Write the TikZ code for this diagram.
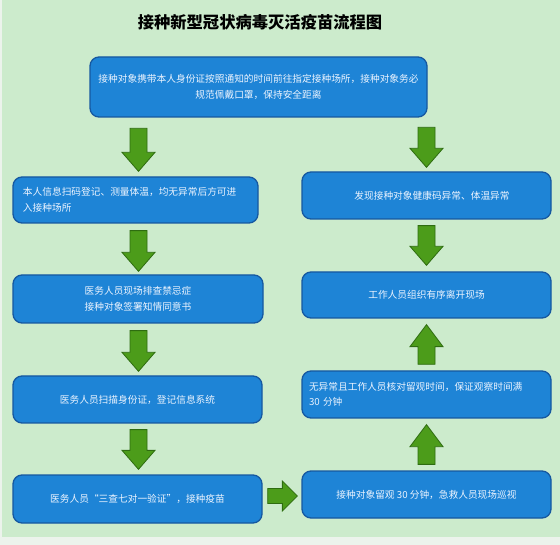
\documentclass[tikz,border=0pt]{standalone}
\usepackage{fontspec}
\setmainfont{Noto Sans CJK SC}
\usetikzlibrary{calc}
\definecolor{bggreen}{RGB}{204,235,204}
\definecolor{bgedge}{RGB}{236,243,236}
\definecolor{boxblue}{RGB}{30,132,214}
\definecolor{boxborder}{RGB}{22,88,160}
\definecolor{arrowgreen}{RGB}{76,156,26}
\definecolor{arrowborder}{RGB}{46,108,16}
\definecolor{boxtext}{RGB}{236,244,255}
\tikzset{
  flowbox/.style={draw=boxborder, fill=boxblue, line width=1.3pt, rounded corners=9pt,
    text=boxtext, font=\fontsize{9.7}{15.5}\selectfont, inner sep=0pt},
  arrowstyle/.style={draw=arrowborder, fill=arrowgreen, line width=0.8pt, line join=miter},
  titlestyle/.style={font=\fontsize{16.3}{18}\selectfont\bfseries, text=black}
}
% #1 start, #2 end, #3 shaft half width, #4 head half width, #5 head length
\newcommand\blockarr[5]{%
  \draw[arrowstyle] let \p1=#1, \p2=#2,
    \n1={atan2(\y2-\y1,\x2-\x1)}, \n2={veclen(\x2-\x1,\y2-\y1)} in
    [shift={(\p1)}, rotate=\n1]
    (0,-#3) -- (\n2-#5,-#3) -- (\n2-#5,-#4) -- (\n2,0) -- (\n2-#5,#4) -- (\n2-#5,#3) -- (0,#3) -- cycle;}
\begin{document}
\begin{tikzpicture}[x=1pt,y=1pt]
\useasboundingbox (0,0) rectangle (560,-545);
\fill[bgedge] (0,0) rectangle (560,-545);
\fill[bggreen] (2,0) rectangle (560,-537);

\node[titlestyle] (title) at (260,-22) {接种新型冠状病毒灭活疫苗流程图};

\node[flowbox, minimum width=337pt, minimum height=60pt, align=center] (top) at (258.5,-87)
  {接种对象携带本人身份证按照通知的时间前往指定接种场所，接种对象务必\\规范佩戴口罩，保持安全距离};

\node[flowbox, minimum width=245pt, minimum height=46pt, text width=225pt, align=left, inner xsep=10pt] (L1) at (135.5,-200)
  {本人信息扫码登记、测量体温，均无异常后方可进\\入接种场所};
\node[flowbox, minimum width=250pt, minimum height=48pt, align=center] (L2) at (138,-299)
  {医务人员现场排查禁忌症\\接种对象签署知情同意书};
\node[flowbox, minimum width=249pt, minimum height=47pt, align=center] (L3) at (137.5,-399.5)
  {医务人员扫描身份证，登记信息系统};
\node[flowbox, minimum width=249pt, minimum height=48pt, align=center] (L4) at (137.5,-499)
  {医务人员“三查七对一验证”，接种疫苗};

\node[flowbox, minimum width=249pt, minimum height=47pt, align=center] (R1) at (426.5,-195.5)
  {\hspace*{11pt}发现接种对象健康码异常、体温异常};
\node[flowbox, minimum width=249pt, minimum height=46pt, align=center] (R2) at (426.5,-295)
  {工作人员组织有序离开现场};
\node[flowbox, minimum width=249pt, minimum height=47pt, text width=235pt, align=left, inner xsep=7pt] (R3) at (426.5,-394.5)
  {无异常且工作人员核对留观时间，保证观察时间满\\30 分钟};
\node[flowbox, minimum width=249pt, minimum height=47pt, align=center] (R4) at (426.5,-494.5)
  {接种对象留观 30 分钟，急救人员现场巡视};

% left column
\blockarr{($(L1.north)+(3,48)$)}{($(L1.north)+(3,5)$)}{8.5}{16.5}{19}
\blockarr{($(L1.south)+(3,-7)$)}{($(L2.north)+(0.5,3)$)}{8.5}{16.5}{19}
\blockarr{($(L2.south)+(0.5,-7)$)}{($(L3.north)+(1,4)$)}{8.5}{16.5}{19}
\blockarr{($(L3.south)+(1,-6)$)}{($(L4.north)+(1,5)$)}{8.5}{16.5}{19}
% right column
\blockarr{($(R1.north)+(0,44)$)}{($(R1.north)+(0,4)$)}{8.5}{16.5}{19}
\blockarr{($(R1.south)+(0,-6)$)}{($(R2.north)+(0,6)$)}{8.5}{16.5}{19}
\blockarr{($(R3.north)+(0,6)$)}{($(R2.south)+(0,-6)$)}{8.5}{16.5}{22}
\blockarr{($(R4.north)+(0,6)$)}{($(R3.south)+(0,-6)$)}{8.5}{16.5}{22}
% horizontal
\blockarr{($(L4.east)+(5,3)$)}{($(R4.west)+(-4,-1.5)$)}{7.5}{15}{15}
\end{tikzpicture}
\end{document}
